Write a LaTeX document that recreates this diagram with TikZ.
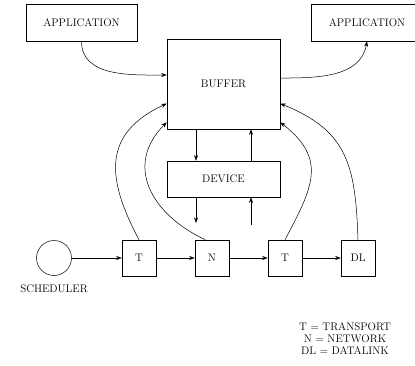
\documentclass[tikz,border=0pt]{standalone}
\usetikzlibrary{arrows.meta, positioning}

\begin{document}
\begin{tikzpicture}[
    x=1pt, y=1pt,
    ->,
    >={Stealth[length=5.5pt, width=4pt]},
    line width=0.5pt,
    font=\fontsize{11}{12}\selectfont,
    box/.style={draw, -, inner sep=0pt, minimum height=36pt},
    layer/.style={box, minimum width=34pt},
    node distance=73pt,
    on grid,
]
    \useasboundingbox (0,0) rectangle (415,365);

    \node[box, minimum width=111pt, minimum height=37pt] (App1) at (81.5,342.5) {APPLICATION};
    \node[box, minimum width=111pt, minimum height=37pt] (App2) at (367,342.5)  {APPLICATION};

    \node[box, minimum width=113pt, minimum height=90pt] (Buffer) at (223.5,281) {BUFFER};
    \node[box, minimum width=113pt, below=95pt of Buffer] (Device) {DEVICE};

    \node[layer]               (T1) at (139,107) {T};
    \node[layer, right=of T1]  (N)  {N};
    \node[layer, right=of N]   (T2) {T};
    \node[layer, right=of T2]  (DL) {DL};

    \node[draw, -, circle, minimum size=35pt, inner sep=0pt, left=85pt of T1] (Sched) {};
    \node[below=31pt of Sched] (SchedLabel) {SCHEDULER};

    \node[align=center] (Key) at (345,26) {T = TRANSPORT\\N = NETWORK\\DL = DATALINK};

    \coordinate (DevOut) at (196,142);
    \coordinate (DevIn)  at (251,140);

    \draw (Buffer.south -| DevOut) -- (Device.north -| DevOut);
    \draw (Device.north -| DevIn)  -- (Buffer.south -| DevIn);
    \draw (Device.south -| DevOut) -- (DevOut);
    \draw (DevIn) -- (Device.south -| DevIn);

    \path
        (Sched) edge (T1)
        (T1)    edge (N)
        (N)     edge (T2)
        (T2)    edge (DL)
    ;

    \path
        (App1.south) edge [out=-90, in=180]  (Buffer.171)
        (Buffer.6)   edge [out=0,   in=-100] (App2.south)
        (T1.north)   edge [out=118, in=205, looseness=1.3] (Buffer.199)
        (N.110)      edge [out=155, in=225, looseness=1.25] (Buffer.214)
        (T2.north)   edge [out=62,  in=-38, looseness=1.3] (Buffer.326)
        (DL.north)   edge [out=92,  in=-22, looseness=1.2] (Buffer.341)
    ;
\end{tikzpicture}
\end{document}
